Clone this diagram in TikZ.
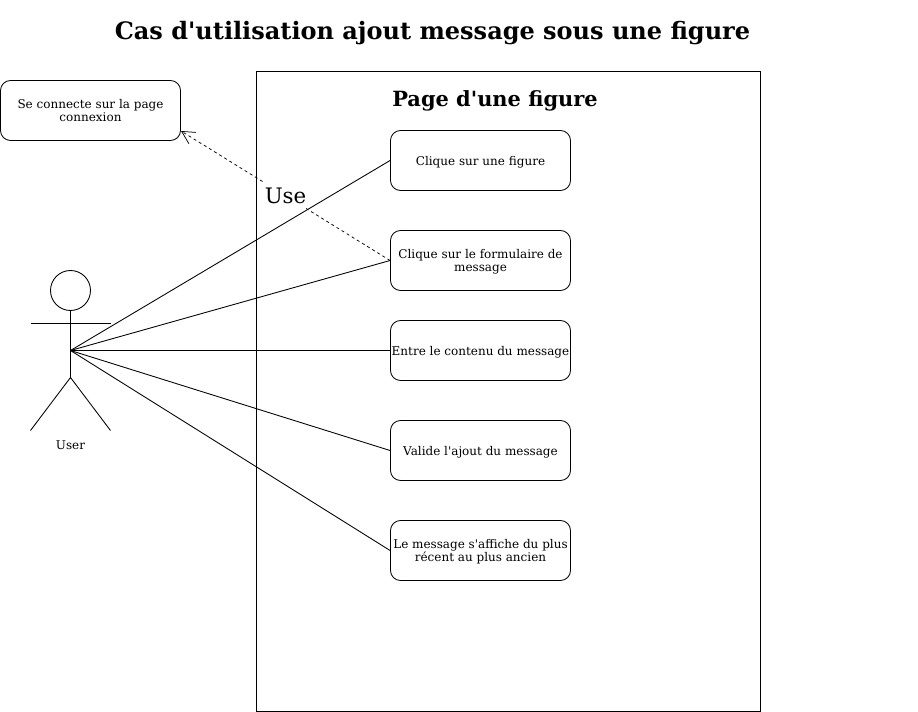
\documentclass[tikz,border=0pt]{standalone}
\usepackage{fontspec}
\newfontfamily\dvs{DejaVu Serif}
\usetikzlibrary{arrows.meta}
\tikzset{
 x=0.75pt,y=-0.75pt,
 every path/.style={line width=0.65pt},
 boxbase/.style={draw,rounded corners=7.5pt,minimum width=135pt,minimum height=45pt,inner sep=0pt,align=center,font=\dvs\fontsize{9}{10.3}\selectfont,anchor=center,fill=white},
 usecase/.style={boxbase,execute at begin node={\rule{0pt}{9.2pt}}},
 twoline/.style={boxbase,text depth=0pt},
 link/.style={draw},
 uselink/.style={draw,line width=0.55pt,dash pattern=on 2.25pt off 2.25pt,-{Straight Barb[length=9.5pt,width=10pt,line width=0.55pt]}},
}
\begin{document}
\begin{tikzpicture}
\useasboundingbox (0,0) rectangle (918,712);
\node[font=\dvs\fontsize{18}{20}\selectfont\bfseries,anchor=center] (title) at (432.5,33) {Cas d'utilisation ajout message sous une figure};
\node[draw,minimum width=378pt,minimum height=480pt,inner sep=0pt] (page) at (508.5,391.5) {};
\node[font=\dvs\fontsize{15.7}{17}\selectfont\bfseries] (pagetitle) at (495,101) {Page d'une figure};
\node[twoline] (login) at (90.5,110.5) {Se connecte sur la page\\connexion};
\coordinate (loginport) at (181,131);
\node[usecase] (a) at (480.5,160.5) {Clique sur une figure};
\node[twoline] (b) at (480.5,260.5) {Clique sur le formulaire de\\message};
\node[usecase] (c) at (480.5,350.5) {Entre le contenu du message};
\node[usecase] (d) at (480.5,450.5) {Valide l'ajout du message};
\node[twoline] (e) at (480.5,550.5) {Le message s'affiche du plus\\récent au plus ancien};
% actor
\node[draw,circle,minimum size=30pt,inner sep=0pt] (head) at (70.5,290.5) {};
\coordinate (hip) at (70.5,377.5);
\coordinate (center) at (70.5,350.5);
\coordinate (armL) at (30.5,323.5);
\coordinate (armR) at (110.5,323.5);
\coordinate (footL) at (30.5,430.5);
\coordinate (footR) at (110.5,430.5);
\draw (head.south) -- (hip);
\draw (armL) -- (armR);
\draw (footL) -- (hip) -- (footR);
\node[font=\dvs\fontsize{9}{10}\selectfont] (user) at (70.5,445) {User};
\draw[uselink] (b.west) -- node[pos=0.5,fill=white,inner sep=0pt,minimum height=20pt,minimum width=31pt,font=\dvs\fontsize{16}{18}\selectfont] (use) {Use} (loginport);
\draw[link] (center) -- (a.west);
\draw[link] (center) -- (b.west);
\draw[link] (center) -- (c.west);
\draw[link] (center) -- (d.west);
\draw[link] (center) -- (e.west);
\end{tikzpicture}
\end{document}
